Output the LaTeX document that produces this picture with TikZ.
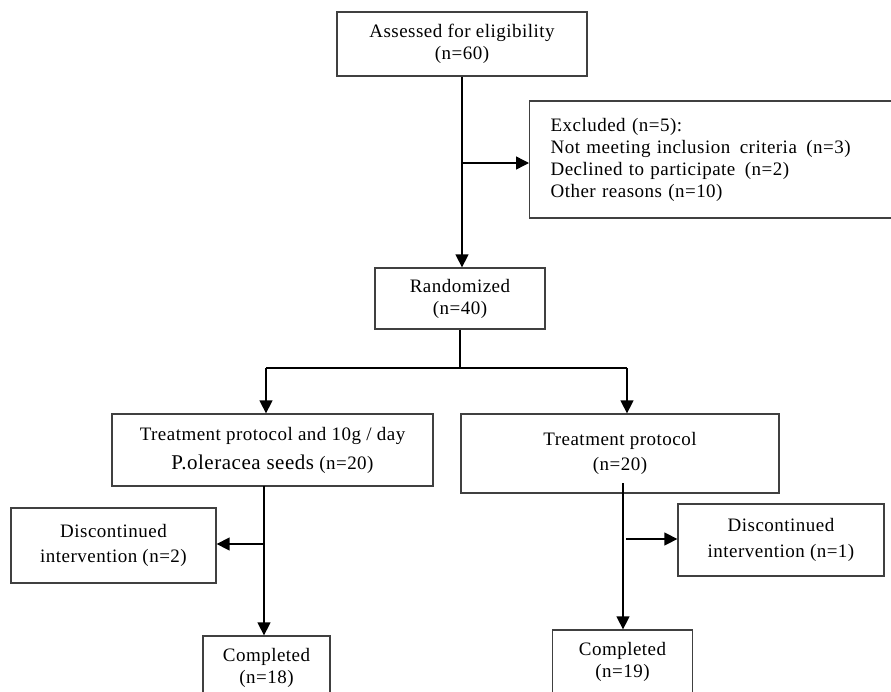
\documentclass[tikz,border=0pt]{standalone}
\usepackage{fontspec}
\setmainfont{Liberation Serif}[LetterSpace=2.5]
\usetikzlibrary{arrows.meta}

\begin{document}
\begin{tikzpicture}[x=1pt,y=-1pt,
  box/.style={draw=black!75,line width=1.3pt,rectangle,align=center,inner sep=0pt,
    font=\fontsize{19}{22}\selectfont},
  flow/.style={line width=1.4pt,-{Triangle[length=13pt,width=13pt]}},
  link/.style={line width=1.4pt}]

\clip (0,0) rectangle (891,691) ;

%top boxes
\node [box,minimum width=250,minimum height=64] (assess) at (462,44)
  {Assessed for eligibility\\(n=60)} ;
\node [box,anchor=west,minimum height=117,text width=340,inner xsep=21,align=left] (excl) at (529,159.5)
  {Excluded (n=5):\\Not meeting inclusion\, criteria\, (n=3)\\Declined to participate\, (n=2)\\Other reasons (n=10)} ;
\node [box,minimum width=170,minimum height=61] (rand) at (460,298.5)
  {Randomized\\(n=40)} ;

%treatment boxes
\node [box,minimum width=321,minimum height=72,font=\fontsize{19}{29}\selectfont] (treatA) at (272.5,450)
  {Treatment protocol and 10g / day\\{\fontsize{21}{29}\selectfont P.oleracea seeds} (n=20)} ;
\node [box,minimum width=318,minimum height=79,font=\fontsize{19}{25}\selectfont] (treatB) at (620,453.5)
  {Treatment protocol\\(n=20)} ;

%discontinued boxes
\node [box,minimum width=205,minimum height=75,font=\fontsize{19}{25}\selectfont] (discA) at (113.5,545.5)
  {Discontinued\\intervention (n=2)} ;
\node [box,minimum width=206,minimum height=72,font=\fontsize{19}{26}\selectfont] (discB) at (781,540)
  {Discontinued\\intervention (n=1)} ;

%completed boxes
\node [box,minimum width=127,minimum height=64] (compA) at (266.5,668)
  {Completed\\(n=18)} ;
\node [box,minimum width=140,minimum height=64] (compB) at (622.5,662)
  {Completed\\(n=19)} ;

%junctions
\coordinate (exclSplit) at (462,163) ;
\coordinate (randSplit) at (460,368) ;
\coordinate (leftTop) at (266,368) ;
\coordinate (rightTop) at (627,368) ;
\coordinate (leftLine) at (264,486) ;
\coordinate (leftSplit) at (264,544) ;
\coordinate (rightLine) at (623,483) ;
\coordinate (rightSplit) at (626,539) ;

%arrows
\draw [flow] (assess.south) -- (assess.south |- rand.north) ;
\draw [flow] (exclSplit) -- (exclSplit -| excl.west) ;
\draw [link] (rand.south) -- (randSplit) ;
\draw [link] (leftTop) -- (rightTop) ;
\draw [flow] (leftTop) -- (leftTop |- treatA.north) ;
\draw [flow] (rightTop) -- (rightTop |- treatB.north) ;
\draw [flow] (leftLine) -- (leftLine |- compA.north) ;
\draw [flow] (leftSplit) -- (leftSplit -| discA.east) ;
\draw [flow] (rightLine) -- (rightLine |- compB.north) ;
\draw [flow] (rightSplit) -- (rightSplit -| discB.west) ;

\end{tikzpicture}
\end{document}
